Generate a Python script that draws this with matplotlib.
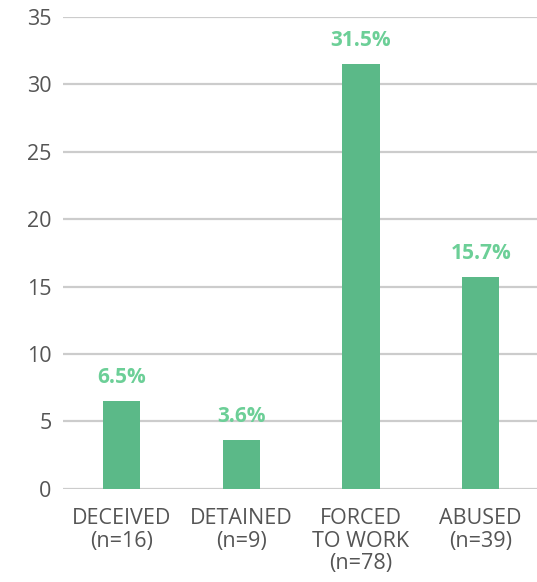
import matplotlib.pyplot as plt

categories = ["DECEIVED\n(n=16)", "DETAINED\n(n=9)", "FORCED\nTO WORK\n(n=78)", "ABUSED\n(n=39)"]
values = [6.5, 3.6, 31.5, 15.7]
value_labels = ["6.5%", "3.6%", "31.5%", "15.7%"]
y_ticks = [0, 5, 10, 15, 20, 25, 30, 35]

plt.rcParams["font.family"] = ["Open Sans", "DejaVu Sans"]

fig = plt.figure(figsize=(5.37, 5.82), dpi=100)
ax = fig.add_axes([0.117, 0.16, 0.883, 0.811])

x = range(len(categories))
ax.bar(x, values, width=0.31, color="#5bb988", zorder=3)

for xi, v, lab in zip(x, values, value_labels):
    ax.text(xi, v + 1.0, lab, ha="center", va="bottom", fontsize=15,
            fontweight="bold", color="#6ccf97")

ax.set_ylim(0, 35)
ax.set_xlim(-0.49, 3.47)
ax.set_yticks(y_ticks)
ax.set_xticks(list(x))
ax.set_xticklabels(categories, fontsize=15.5, color="#555555", linespacing=1.08)
ax.tick_params(axis="y", labelsize=15.5, labelcolor="#555555", length=0, pad=8)
ax.tick_params(axis="x", length=0, pad=14)
ax.yaxis.grid(True, color="#cccccc", linewidth=1.6, zorder=0)
ax.set_axisbelow(True)
for s in ax.spines.values():
    s.set_visible(False)

fig.savefig("out.png", dpi=100)
plt.close(fig)
